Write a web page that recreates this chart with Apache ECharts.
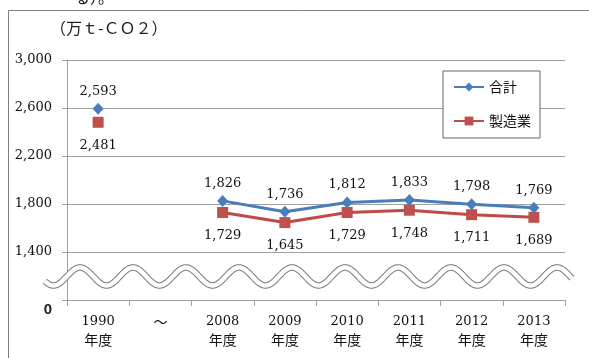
<!DOCTYPE html>
<html>
<head>
<meta charset="utf-8">
<script src="https://cdn.jsdelivr.net/npm/echarts@6/dist/echarts.min.js"></script>
<style>
  html, body { margin: 0; padding: 0; background: #fff; }
  #chart { width: 589px; height: 358px; }
</style>
</head>
<body>
<div id="chart"></div>
<script>
// Fiscal years on the category axis ("～" marks the skipped years)
const categories = ['1990', '～', '2008', '2009', '2010', '2011', '2012', '2013'];
// Emissions, 10,000 t-CO2
const totalValues = [2593, null, 1826, 1736, 1812, 1833, 1798, 1769];
const manufacturingValues = [2481, null, 1729, 1645, 1729, 1748, 1711, 1689];
const seriesNames = ['合計', '製造業'];
// Value axis: the lowest tick stands for 0 (the axis is broken below 1,400)
const axisMin = 1000;
const axisMax = 3000;
const axisStep = 400;
const unitLabel = '（万ｔ-ＣＯ２）';

const serif = '"DejaVu Serif", "Liberation Serif", serif';
const cjk = '"Noto Sans CJK JP", sans-serif';
const fmt = v => v.toLocaleString('en-US');

// Break symbol: a double wavy band across the bottom of the plot
function wavePoints() {
  const pts = [];
  for (let x = 45; x <= 572; x += 1) {
    pts.push([x, 276.5 - 9 * Math.cos(2 * Math.PI * (x - 80) / 53)]);
  }
  return pts;
}
const wave = wavePoints();

const chart = echarts.init(document.getElementById('chart'), null, { renderer: 'canvas' });
chart.setOption({
  animation: false,
  backgroundColor: '#fff',
  grid: { left: 67, right: 24, top: 60, bottom: 58, containLabel: false },
  legend: {
    data: seriesNames,
    orient: 'vertical',
    left: 443,
    top: 71,
    width: 94,
    padding: [9, 9, 10, 10],
    itemGap: 20,
    itemWidth: 30,
    itemHeight: 11,
    backgroundColor: '#fff',
    borderColor: '#666',
    borderWidth: 1,
    textStyle: { fontFamily: cjk, fontSize: 14, color: '#111' }
  },
  xAxis: {
    type: 'category',
    data: categories,
    boundaryGap: true,
    axisLine: { lineStyle: { color: '#a0a0a0', width: 1 } },
    axisTick: { show: true, length: 6, inside: false, lineStyle: { color: '#a0a0a0' } },
    axisLabel: {
      interval: 0,
      margin: 13,
      formatter: v => v === '～' ? '{c|～}' : '{n|' + v + '}\n{c|年度}',
      rich: {
        n: { fontFamily: serif, fontSize: 13, lineHeight: 18, color: '#111' },
        c: { fontFamily: cjk, fontSize: 14, lineHeight: 18, color: '#111' }
      }
    }
  },
  yAxis: {
    type: 'value',
    min: axisMin,
    max: axisMax,
    interval: axisStep,
    axisLine: { show: true, lineStyle: { color: '#a0a0a0', width: 1 } },
    axisTick: { show: true, length: 5, inside: false, lineStyle: { color: '#a0a0a0' } },
    splitLine: { show: true, lineStyle: { color: '#a0a0a0', width: 1 } },
    axisLabel: {
      margin: 15,
      formatter: v => v === axisMin ? '{z|0}' : fmt(v),
      fontFamily: serif,
      fontSize: 13,
      color: '#111',
      rich: {
        z: {
          fontFamily: '"Liberation Sans Narrow", "Liberation Sans", sans-serif',
          fontWeight: 'bold',
          fontSize: 15,
          color: '#222',
          padding: [20, 0, 0, 0]
        }
      }
    }
  },
  series: [
    {
      name: seriesNames[0],
      type: 'line',
      data: totalValues,
      connectNulls: false,
      symbol: 'diamond',
      symbolSize: [11, 12],
      z: 3,
      lineStyle: { color: '#4a7ebb', width: 3 },
      itemStyle: { color: '#4a7ebb' },
      label: {
        show: true,
        position: 'top',
        distance: 5,
        formatter: p => fmt(p.value),
        fontFamily: serif,
        fontSize: 13,
        color: '#111'
      }
    },
    {
      name: seriesNames[1],
      type: 'line',
      data: manufacturingValues,
      connectNulls: false,
      symbol: 'rect',
      symbolSize: 11,
      z: 2,
      lineStyle: { color: '#be4b48', width: 3 },
      itemStyle: { color: '#c0504d' },
      label: {
        show: true,
        position: 'bottom',
        distance: 11,
        formatter: p => fmt(p.value),
        fontFamily: serif,
        fontSize: 13,
        color: '#111'
      }
    }
  ],
  graphic: [
    {
      type: 'rect',
      shape: { x: 8.5, y: 10.5, width: 700, height: 500 },
      style: { fill: null, stroke: '#7f7f7f', lineWidth: 1 },
      z: 1, silent: true
    },
    {
      type: 'text',
      left: 74, top: -11,
      style: { text: 'る）。', font: '16px ' + cjk, fill: '#111' },
      z: 1, silent: true
    },
    {
      type: 'text',
      left: 50, top: 20,
      style: { text: unitLabel, font: '16px ' + cjk, fill: '#222' },
      z: 1, silent: true
    },
    {
      type: 'polyline',
      shape: { points: wave, smooth: 0 },
      style: { stroke: '#7a7a7a', lineWidth: 6.5, fill: null, lineCap: 'butt' },
      z: 50, silent: true
    },
    {
      type: 'polyline',
      shape: { points: wave, smooth: 0 },
      style: { stroke: '#fff', lineWidth: 4.5, fill: null, lineCap: 'butt' },
      z: 51, silent: true
    }
  ]
});
</script>
</body>
</html>
